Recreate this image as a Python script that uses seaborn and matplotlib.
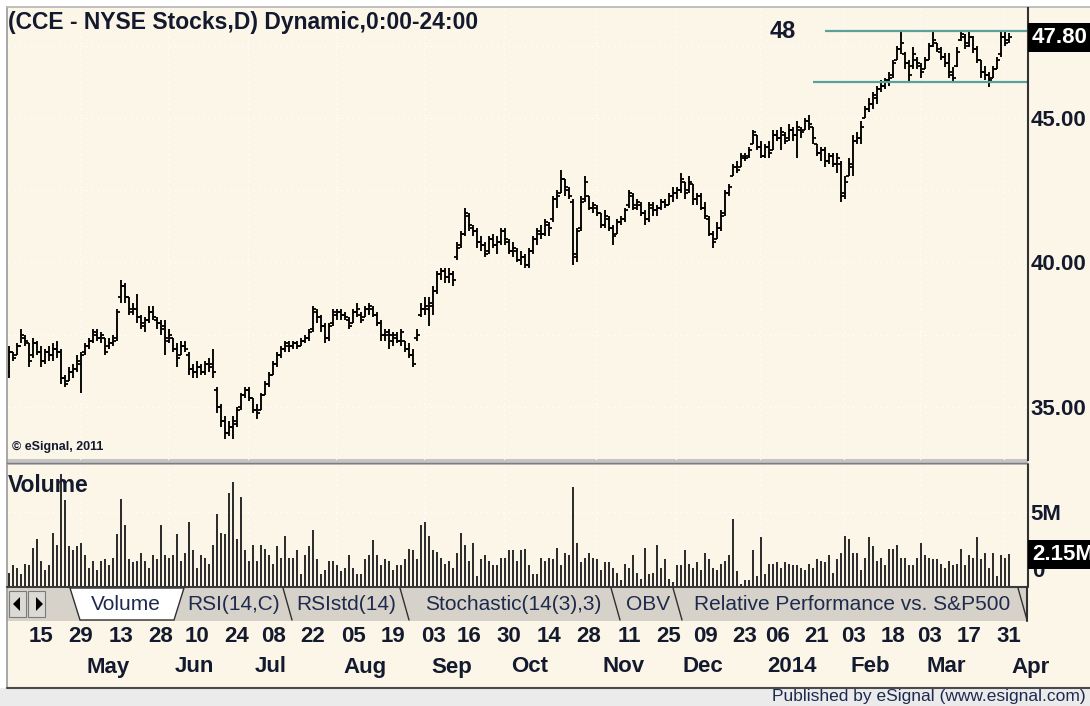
import numpy as np
import pandas as pd
import matplotlib
matplotlib.use("Agg")
import matplotlib.pyplot as plt
import matplotlib.transforms as mtrans
from matplotlib.patches import Rectangle, Polygon
import seaborn as sns

# NYSE trading calendar for the window shown (Apr 3 2013 .. Mar 31 2014)
holidays = ["2013-05-27", "2013-07-04", "2013-09-02", "2013-11-28",
            "2013-12-25", "2014-01-01", "2014-01-20", "2014-02-17"]
dates = pd.bdate_range("2013-04-03", "2014-04-01", freq="C", holidays=holidays)

opens = [
    36.2, 36.9, 36.8, 37.1, 37.4, 37.2, 36.8, 37.2, 36.9, 36.6,
    36.9, 36.8, 37.0, 36.9, 36.0, 35.9, 36.2, 36.3, 36.5, 36.9,
    37.1, 37.3, 37.5, 37.4, 37.4, 37.1, 37.2, 37.4, 38.8, 39.2,
    38.8, 38.3, 38.4, 38.1, 37.8, 38.0, 38.3, 38.0, 37.9, 37.8,
    37.3, 37.4, 37.0, 36.8, 37.1, 36.8, 36.3, 36.2, 36.4, 36.2,
    36.5, 36.5, 35.6, 35.0, 34.5, 34.1, 34.3, 34.4, 35.0, 35.4,
    35.6, 35.3, 34.9, 34.9, 35.4, 35.8, 36.1, 36.5, 36.8, 37.0,
    37.1, 37.1, 37.2, 37.1, 37.3, 37.4, 37.7, 38.3, 38.1, 37.8,
    37.4, 37.9, 38.2, 38.3, 38.2, 38.0, 37.9, 38.3, 38.2, 38.1,
    38.4, 38.4, 38.2, 37.9, 37.5, 37.6, 37.3, 37.4, 37.3, 37.3,
    37.0, 36.8, 37.4, 38.2, 38.4, 38.4, 38.5, 39.0, 39.6, 39.7,
    39.5, 39.6, 40.2, 40.6, 41.0, 41.6, 41.2, 41.1, 40.7, 40.6,
    40.4, 40.8, 40.6, 40.7, 41.1, 40.7, 40.4, 40.4, 40.1, 40.2,
    39.9, 40.4, 40.8, 41.0, 41.0, 41.3, 41.5, 42.2, 42.4, 42.9,
    42.5, 42.1, 40.2, 41.2, 42.2, 42.3, 41.9, 41.9, 41.7, 41.3,
    41.5, 41.2, 41.0, 41.4, 41.5, 42.0, 42.3, 42.0, 42.0, 41.7,
    41.5, 41.9, 41.8, 41.9, 42.1, 42.0, 42.3, 42.4, 42.5, 42.8,
    42.5, 42.7, 42.2, 42.3, 41.9, 41.5, 41.0, 40.8, 41.2, 41.7,
    42.4, 43.0, 43.3, 43.3, 43.6, 43.7, 44.1, 44.4, 44.0, 43.7,
    44.0, 43.9, 44.4, 44.3, 44.4, 44.3, 44.6, 44.4, 44.6, 44.6,
    44.9, 44.7, 44.1, 43.8, 43.9, 43.5, 43.7, 43.4, 43.4, 42.4,
    43.0, 43.3, 44.2, 44.3, 45.0, 45.3, 45.5, 45.7, 46.0, 46.1,
    46.3, 46.5, 47.0, 47.4, 47.2, 46.9, 46.8, 47.0, 46.8, 46.7,
    47.0, 47.5, 47.6, 47.3, 47.1, 46.9, 46.5, 46.8, 47.7, 47.8,
    47.5, 47.8, 47.4, 47.0, 46.6, 46.5, 46.4, 46.7, 47.2, 47.8,
    47.7,
]
highs = [
    37.1, 36.9, 37.2, 37.7, 37.5, 37.2, 37.4, 37.3, 37.1, 37.0,
    37.1, 37.2, 37.3, 37.0, 36.1, 36.4, 36.5, 36.8, 36.9, 37.2,
    37.4, 37.7, 37.7, 37.6, 37.4, 37.4, 37.5, 38.4, 39.4, 39.3,
    38.8, 38.6, 38.9, 38.2, 38.1, 38.5, 38.5, 38.1, 38.0, 38.0,
    37.7, 37.4, 37.2, 37.3, 37.3, 36.9, 36.5, 36.6, 36.5, 36.6,
    36.7, 37.0, 35.7, 35.1, 34.7, 34.5, 34.7, 35.0, 35.5, 35.7,
    35.7, 35.3, 35.1, 35.5, 35.9, 36.2, 36.6, 36.9, 37.1, 37.3,
    37.3, 37.3, 37.3, 37.4, 37.5, 37.7, 38.5, 38.4, 38.2, 37.9,
    37.9, 38.4, 38.4, 38.4, 38.3, 38.1, 38.4, 38.6, 38.3, 38.5,
    38.6, 38.5, 38.3, 38.0, 37.7, 37.7, 37.6, 37.6, 37.7, 37.3,
    37.2, 37.0, 37.7, 38.6, 38.8, 38.8, 39.2, 39.7, 39.8, 39.8,
    39.8, 39.7, 40.7, 41.1, 41.9, 41.7, 41.3, 41.2, 40.9, 40.7,
    40.9, 41.0, 40.9, 41.2, 41.2, 40.8, 40.7, 40.5, 40.4, 40.3,
    40.5, 40.9, 41.2, 41.3, 41.5, 41.4, 42.3, 42.5, 43.2, 42.9,
    42.6, 42.2, 41.2, 42.3, 43.0, 42.3, 42.1, 42.0, 41.7, 41.8,
    41.6, 41.3, 41.5, 41.6, 41.9, 42.5, 42.4, 42.2, 42.1, 41.8,
    42.1, 42.1, 42.0, 42.2, 42.2, 42.4, 42.6, 42.6, 43.1, 42.8,
    43.0, 42.7, 42.4, 42.4, 42.1, 41.6, 41.1, 41.4, 41.8, 42.5,
    42.7, 43.4, 43.5, 43.8, 43.8, 44.0, 44.6, 44.4, 44.2, 44.1,
    44.2, 44.6, 44.6, 44.7, 44.5, 44.8, 44.7, 44.9, 44.7, 45.0,
    45.1, 44.7, 44.1, 44.0, 44.0, 43.8, 43.8, 43.8, 43.5, 43.0,
    43.6, 44.4, 44.5, 44.9, 45.4, 45.7, 45.9, 46.1, 46.3, 46.4,
    46.6, 47.0, 47.5, 48.0, 47.3, 47.0, 47.45, 47.1, 46.9, 47.1,
    47.6, 47.98, 47.6, 47.45, 47.25, 47.25, 46.75, 47.45, 47.98, 47.9,
    47.98, 47.85, 47.5, 47.0, 46.8, 46.6, 46.8, 47.1, 48.0, 47.98,
    47.95,
]
lows = [
    36.0, 36.6, 36.8, 37.2, 37.1, 36.4, 36.7, 36.8, 36.4, 36.5,
    36.6, 36.6, 36.7, 35.8, 35.7, 35.9, 36.0, 36.2, 35.5, 36.8,
    37.0, 37.2, 37.3, 37.2, 36.8, 37.0, 37.1, 37.3, 38.6, 38.6,
    38.2, 38.2, 37.9, 37.7, 37.6, 37.9, 38.0, 37.7, 37.5, 36.8,
    37.2, 36.9, 36.4, 36.8, 36.9, 36.1, 36.0, 36.0, 36.1, 36.1,
    36.2, 36.0, 34.8, 34.3, 33.9, 34.0, 33.9, 34.3, 34.9, 35.3,
    35.2, 34.8, 34.6, 34.9, 35.4, 35.7, 36.1, 36.4, 36.7, 36.9,
    36.9, 37.0, 37.0, 37.1, 37.2, 37.3, 37.6, 37.9, 37.6, 37.2,
    37.3, 37.8, 38.0, 38.0, 38.0, 37.7, 37.9, 38.1, 37.9, 38.1,
    38.2, 38.1, 37.8, 37.3, 37.3, 37.0, 37.1, 37.2, 37.1, 36.9,
    36.7, 36.4, 37.3, 38.1, 38.2, 37.8, 38.2, 38.9, 39.4, 39.3,
    39.3, 39.2, 40.1, 40.5, 40.9, 41.1, 40.9, 40.5, 40.4, 40.2,
    40.3, 40.5, 40.3, 40.6, 40.6, 40.3, 40.2, 40.0, 39.9, 39.8,
    39.8, 40.3, 40.6, 40.8, 40.9, 40.9, 41.4, 41.9, 42.4, 42.3,
    42.2, 39.9, 40.0, 41.1, 42.1, 41.8, 41.7, 41.6, 41.2, 41.2,
    41.1, 40.6, 41.0, 41.3, 41.4, 41.9, 41.8, 41.8, 41.6, 41.3,
    41.4, 41.6, 41.6, 41.8, 41.9, 42.0, 42.1, 42.2, 42.4, 42.2,
    42.4, 42.0, 42.0, 41.8, 41.5, 40.9, 40.5, 40.8, 41.1, 41.6,
    42.3, 43.0, 43.1, 43.3, 43.5, 43.6, 44.1, 43.9, 43.6, 43.6,
    43.6, 43.9, 44.2, 43.9, 44.1, 44.2, 44.2, 43.6, 44.3, 44.6,
    44.6, 44.1, 43.7, 43.5, 43.3, 43.4, 43.3, 43.1, 42.1, 42.2,
    43.0, 43.0, 44.1, 44.1, 45.0, 45.2, 45.3, 45.5, 45.9, 46.0,
    46.1, 46.4, 47.0, 47.2, 46.7, 46.25, 46.7, 46.7, 46.4, 46.7,
    47.0, 47.45, 47.3, 47.0, 46.75, 46.4, 46.25, 46.75, 47.65, 47.4,
    47.45, 47.25, 46.9, 46.4, 46.3, 46.07, 46.4, 46.7, 47.1, 47.5,
    47.6,
]
closes = [
    36.9, 36.7, 37.1, 37.5, 37.3, 36.6, 37.2, 36.9, 36.6, 36.9,
    36.8, 37.0, 36.9, 36.0, 35.8, 36.2, 36.3, 36.6, 36.8, 37.1,
    37.3, 37.6, 37.4, 37.5, 36.9, 37.2, 37.3, 38.3, 39.2, 38.8,
    38.4, 38.4, 38.1, 37.9, 38.0, 38.3, 38.1, 37.9, 37.7, 37.4,
    37.5, 37.0, 36.7, 37.1, 37.0, 36.3, 36.2, 36.4, 36.2, 36.5,
    36.4, 36.2, 35.0, 34.5, 34.1, 34.3, 34.5, 34.9, 35.4, 35.6,
    35.3, 34.9, 34.8, 35.4, 35.8, 36.1, 36.5, 36.8, 37.0, 37.2,
    37.1, 37.2, 37.1, 37.3, 37.4, 37.6, 38.4, 38.1, 37.8, 37.4,
    37.8, 38.3, 38.3, 38.2, 38.1, 37.8, 38.3, 38.4, 38.0, 38.4,
    38.5, 38.2, 37.9, 37.5, 37.5, 37.5, 37.5, 37.3, 37.6, 37.0,
    36.8, 36.5, 37.5, 38.4, 38.5, 38.6, 39.0, 39.6, 39.7, 39.5,
    39.6, 39.4, 40.5, 41.0, 41.7, 41.3, 41.1, 40.7, 40.6, 40.3,
    40.8, 40.6, 40.7, 41.1, 40.8, 40.4, 40.5, 40.1, 40.2, 39.9,
    40.4, 40.8, 41.1, 41.0, 41.4, 41.2, 42.2, 42.3, 42.9, 42.6,
    42.3, 40.3, 41.1, 42.1, 42.8, 41.9, 42.0, 41.7, 41.3, 41.6,
    41.2, 40.9, 41.4, 41.5, 41.8, 42.4, 41.9, 42.1, 41.7, 41.5,
    42.0, 41.8, 41.9, 42.1, 42.0, 42.3, 42.4, 42.5, 42.9, 42.4,
    42.8, 42.2, 42.3, 41.9, 41.6, 41.0, 40.7, 41.2, 41.6, 42.4,
    42.6, 43.3, 43.2, 43.7, 43.6, 43.9, 44.5, 44.0, 43.7, 44.0,
    43.8, 44.4, 44.3, 44.5, 44.2, 44.6, 44.4, 44.7, 44.5, 44.9,
    44.8, 44.3, 43.8, 43.9, 43.5, 43.7, 43.4, 43.6, 42.3, 42.8,
    43.4, 44.2, 44.3, 44.7, 45.3, 45.5, 45.8, 46.0, 46.1, 46.3,
    46.4, 46.9, 47.4, 47.6, 46.9, 46.5, 47.2, 46.9, 46.6, 47.0,
    47.5, 47.7, 47.4, 47.1, 46.9, 46.6, 46.4, 47.3, 47.9, 47.6,
    47.8, 47.4, 47.0, 46.6, 46.5, 46.3, 46.7, 47.0, 47.8, 47.6,
    47.8,
]
# daily volume, millions of shares
volume = [
    0.9, 1.4, 1.2, 0.8, 1.5, 1.4, 2.6, 3.2, 1.7, 1.1,
    1.4, 3.6, 2.8, 7.6, 5.8, 2.7, 2.4, 2.7, 2.9, 2.1,
    1.2, 1.7, 1.1, 1.7, 1.8, 1.4, 1.9, 3.5, 5.9, 4.1,
    1.8, 1.6, 1.7, 2.2, 1.7, 1.2, 2.1, 1.8, 4.1, 2.1,
    1.9, 2.1, 3.5, 1.7, 2.2, 4.3, 2.4, 1.2, 2.1, 1.9,
    1.5, 2.8, 4.9, 3.6, 3.5, 6.3, 7.0, 3.2, 6.0, 2.4,
    1.7, 2.8, 1.7, 2.8, 2.5, 2.1, 1.5, 2.7, 1.9, 3.4,
    1.9, 1.9, 2.4, 0.8, 2.1, 2.7, 3.8, 1.8, 0.8, 1.1,
    1.7, 1.7, 1.4, 1.0, 1.2, 2.1, 1.2, 0.8, 0.8, 1.8,
    2.1, 3.1, 2.1, 1.4, 1.8, 1.7, 1.1, 1.4, 1.4, 1.8,
    2.5, 2.4, 1.8, 4.1, 4.3, 3.4, 2.4, 2.3, 1.9, 1.5,
    1.7, 1.2, 2.2, 3.6, 2.8, 1.7, 2.9, 0.7, 1.8, 2.1,
    1.7, 1.4, 1.4, 1.9, 1.9, 2.4, 2.4, 1.7, 2.4, 2.5,
    1.4, 0.8, 0.8, 1.9, 1.7, 1.9, 1.8, 2.6, 1.4, 2.2,
    2.1, 6.7, 2.9, 1.6, 1.9, 2.2, 1.9, 1.8, 1.1, 1.6,
    1.6, 1.2, 0.9, 0.4, 1.5, 1.2, 2.1, 0.9, 0.5, 2.6,
    0.8, 0.9, 2.8, 1.2, 1.8, 0.5, 0.3, 1.4, 1.4, 2.4,
    1.5, 1.2, 1.6, 1.1, 2.2, 1.8, 1.2, 1.1, 1.5, 1.7,
    2.1, 4.5, 1.0, 0.15, 0.4, 0.4, 2.4, 0.7, 3.3, 0.8,
    1.5, 1.5, 1.6, 1.2, 1.6, 1.5, 1.4, 1.4, 1.2, 1.1,
    1.5, 1.2, 1.8, 1.7, 1.6, 2.1, 0.9, 1.8, 2.2, 3.4,
    3.2, 2.2, 2.2, 1.1, 1.9, 3.3, 2.7, 1.7, 1.9, 1.4,
    2.5, 2.5, 2.8, 1.9, 1.9, 1.4, 1.4, 1.9, 2.9, 2.1,
    1.9, 1.8, 1.8, 1.5, 1.2, 1.7, 1.4, 1.5, 2.5, 1.4,
    2.1, 1.9, 3.3, 1.8, 2.2, 1.2, 2.2, 0.7, 2.1, 1.9,
    2.15,
]

day_ticks = ["2013-04-15", "2013-04-29", "2013-05-13", "2013-05-28", "2013-06-10",
             "2013-06-24", "2013-07-08", "2013-07-22", "2013-08-05", "2013-08-19",
             "2013-09-03", "2013-09-16", "2013-09-30", "2013-10-14", "2013-10-28",
             "2013-11-11", "2013-11-25", "2013-12-09", "2013-12-23", "2014-01-06",
             "2014-01-21", "2014-02-03", "2014-02-18", "2014-03-03", "2014-03-17",
             "2014-03-31"]
month_starts = ["2013-05", "2013-06", "2013-07", "2013-08", "2013-09", "2013-10",
                "2013-11", "2013-12", "2014-01", "2014-02", "2014-03", "2014-04"]
month_names = ["May", "Jun", "Jul", "Aug", "Sep", "Oct", "Nov", "Dec", "2014", "Feb", "Mar", "Apr"]
price_ticks = [35, 40, 45]
range_levels = [48.0, 46.25]
last_close = 47.80
last_volume = 2.15

n = len(opens)
assert n == len(highs) == len(lows) == len(closes) == len(volume) == 251
idx = np.arange(n)
day_pos = [dates.get_loc(pd.Timestamp(d)) for d in day_ticks]
month_pos = [int(np.argmax(dates.strftime("%Y-%m") == m)) for m in month_starts]

# ---- styling ----
sns.set_theme(style="white")
plt.rcParams["font.family"] = ["Liberation Sans", "DejaVu Sans"]
CREAM = "#fcf6e9"
TXT = "#141a2e"
NAVY = "#1d2a4d"

W, H = 1090, 706
fig = plt.figure(figsize=(W / 100, H / 100), dpi=100, facecolor="white")

bg = fig.add_axes([0, 0, 1, 1], zorder=0)
bg.set_xlim(0, W)
bg.set_ylim(H, 0)
bg.axis("off")

# panel background and frame
bg.add_patch(Rectangle((7, 7), W - 7, 681, fc=CREAM, ec="none"))
bg.plot([7, 7], [7, 688], color="#9a9a9a", lw=1.2)
bg.plot([7, W], [7, 7], color="#b5b5b5", lw=1.2)
# divider between price and volume panes
bg.add_patch(Rectangle((7, 459), 1021, 6, fc="#c4c4c4", ec="none"))
bg.plot([7, 1028], [462.5, 462.5], color="#7c7c7c", lw=1.0)
# tab strip
bg.add_patch(Rectangle((7, 587), 1021, 34, fc="#d6d2ca", ec="none"))
bg.plot([7, 1028], [587, 587], color="#3a3a3a", lw=1.5)
for bx, tri in [(9, [(20, 597), (20, 611), (13, 604)]), (28, [(36, 597), (36, 611), (43, 604)])]:
    bg.add_patch(Rectangle((bx, 591), 17, 26, fc="#dcdad4", ec="#7a7a7a", lw=0.8))
    bg.add_patch(Polygon(tri, closed=True, fc="black", ec="none"))
bg.add_patch(Polygon([(70, 588), (80, 620), (174, 620), (184, 588)], closed=True,
                     fc="white", ec="#303030", lw=1.0))
for sx in [283, 400, 611, 673, 1018]:
    bg.plot([sx, sx + 9], [588, 620], color="#303030", lw=1.0)
bg.plot([1027, 1027], [587, 621], color="#303030", lw=1.5)
tab_labels = [("Volume", 126), ("RSI(14,C)", 234), ("RSIstd(14)", 346),
              ("Stochastic(14(3),3)", 513), ("OBV", 648),
              ("Relative Performance vs. S&P500", 852)]
for txt, tx in tab_labels:
    bg.text(tx, 604, txt, ha="center", va="center", fontsize=15, color=NAVY)
# bottom status strip
bg.add_patch(Rectangle((0, 688), W, 18, fc="#ebebeb", ec="none"))
bg.plot([7, W], [687.5, 687.5], color="#4a4a4a", lw=1.5)
bg.text(1086, 697, "Published by eSignal (www.esignal.com)", ha="right", va="center",
        fontsize=12.5, color=NAVY)

# ---- price pane ----
ax = fig.add_axes([8 / W, 1 - 460 / H, 1020 / W, 452 / H], zorder=1)
ax.set_facecolor("none")
ax.set_xlim(-0.25, 254.75)
ax.set_ylim(33.166, 48.806)
for lvl in [35, 37.5, 40, 42.5, 45, 47.5]:
    ax.axhline(lvl, color="white", lw=1.0, ls=(0, (1, 3)), zorder=0)
for mp in month_pos:
    ax.axvline(mp - 2.25, color="white", lw=1.0, ls=(0, (1, 3)), zorder=0)

ax.vlines(idx, lows, highs, color="black", lw=1.35)
ax.hlines(opens, idx - 0.65, idx, color="black", lw=1.3)
ax.hlines(closes, idx, idx + 0.65, color="black", lw=1.3)
ax.hlines(range_levels, [204, 201], 254.75, color="#57a39c", lw=1.6)

ax.yaxis.tick_right()
ax.set_yticks(price_ticks)
ax.set_yticklabels([f"{v:.2f}" for v in price_ticks], fontsize=16, fontweight="bold", color=TXT)
ax.tick_params(axis="y", length=0, pad=2)
ax.set_xticks([])
for s in ["top", "left", "bottom"]:
    ax.spines[s].set_visible(False)
ax.spines["right"].set_color("#333333")
ax.spines["right"].set_linewidth(1.5)
ax.annotate(f"{last_close:.2f}", xy=(1, last_close), xycoords=("axes fraction", "data"),
            xytext=(4, 0), textcoords="offset pixels", ha="left", va="center",
            fontsize=16, fontweight="bold", color="white",
            bbox=dict(boxstyle="square,pad=0.18", fc="black", ec="none"), annotation_clip=False)

# ---- volume pane ----
vax = fig.add_axes([8 / W, 1 - 586 / H, 1020 / W, 121 / H], zorder=1)
vax.set_facecolor("none")
vdf = pd.DataFrame({"idx": idx, "vol": volume})
sns.barplot(data=vdf, x="idx", y="vol", native_scale=True, width=0.6, color="#2e2e2e",
            saturation=1, errorbar=None, linewidth=0, ax=vax, zorder=2)
vax.set_xlim(-0.25, 254.75)
vax.set_ylim(0, 8.18)
vax.axhline(5, color="white", lw=1.0, ls=(0, (1, 3)), zorder=0)
for mp in month_pos:
    vax.axvline(mp - 2.25, color="white", lw=1.0, ls=(0, (1, 3)), zorder=0)
vax.yaxis.tick_right()
vax.set_yticks([5])
vax.set_yticklabels(["5M"], fontsize=16, fontweight="bold", color=TXT)
vax.tick_params(axis="y", length=0, pad=2)
vax.set_xticks([])
vax.set_xlabel("")
vax.set_ylabel("")
for s in ["top", "left", "bottom"]:
    vax.spines[s].set_visible(False)
vax.spines["right"].set_color("#333333")
vax.spines["right"].set_linewidth(1.5)
vax.annotate("0", xy=(1, 0), xycoords=("axes fraction", "data"), xytext=(4, 4),
             textcoords="offset pixels", ha="left", va="bottom", fontsize=16,
             fontweight="bold", color=TXT, annotation_clip=False)
vax.annotate(f"{last_volume:.2f}M", xy=(1, last_volume), xycoords=("axes fraction", "data"),
             xytext=(4, 0), textcoords="offset pixels", ha="left", va="center",
             fontsize=16, fontweight="bold", color="white",
             bbox=dict(boxstyle="square,pad=0.18", fc="black", ec="none"), annotation_clip=False)

# ---- overlay text ----
ov = fig.add_axes([0, 0, 1, 1], zorder=3)
ov.set_xlim(0, W)
ov.set_ylim(H, 0)
ov.axis("off")
ov.patch.set_alpha(0)
ov.text(8, 22, "(CCE - NYSE Stocks,D) Dynamic,0:00-24:00", ha="left", va="center",
        fontsize=16.5, fontweight="bold", color=TXT)
ov.text(783, 32, "48", ha="center", va="center", fontsize=17, fontweight="bold", color=TXT)
ov.text(12, 447, "\u00a9 eSignal, 2011", ha="left", va="center", fontsize=9,
        fontweight="bold", color=TXT)
ov.text(8, 486, "Volume", ha="left", va="center", fontsize=16.5, fontweight="bold", color=TXT)

# date axis labels, positioned through the price axis x scale
dtr = mtrans.blended_transform_factory(ax.transData, ov.transData)
for p, d in zip(day_pos, day_ticks):
    ov.text(p, 636, d[-2:], transform=dtr, ha="center", va="center", fontsize=16,
            fontweight="bold", color=TXT)
for p, m in zip(month_pos, month_names):
    ov.text(p - 0.5, 667, m, transform=dtr, ha="left", va="center", fontsize=16,
            fontweight="bold", color=TXT)

fig.savefig("out.png", dpi=100, facecolor="white")
